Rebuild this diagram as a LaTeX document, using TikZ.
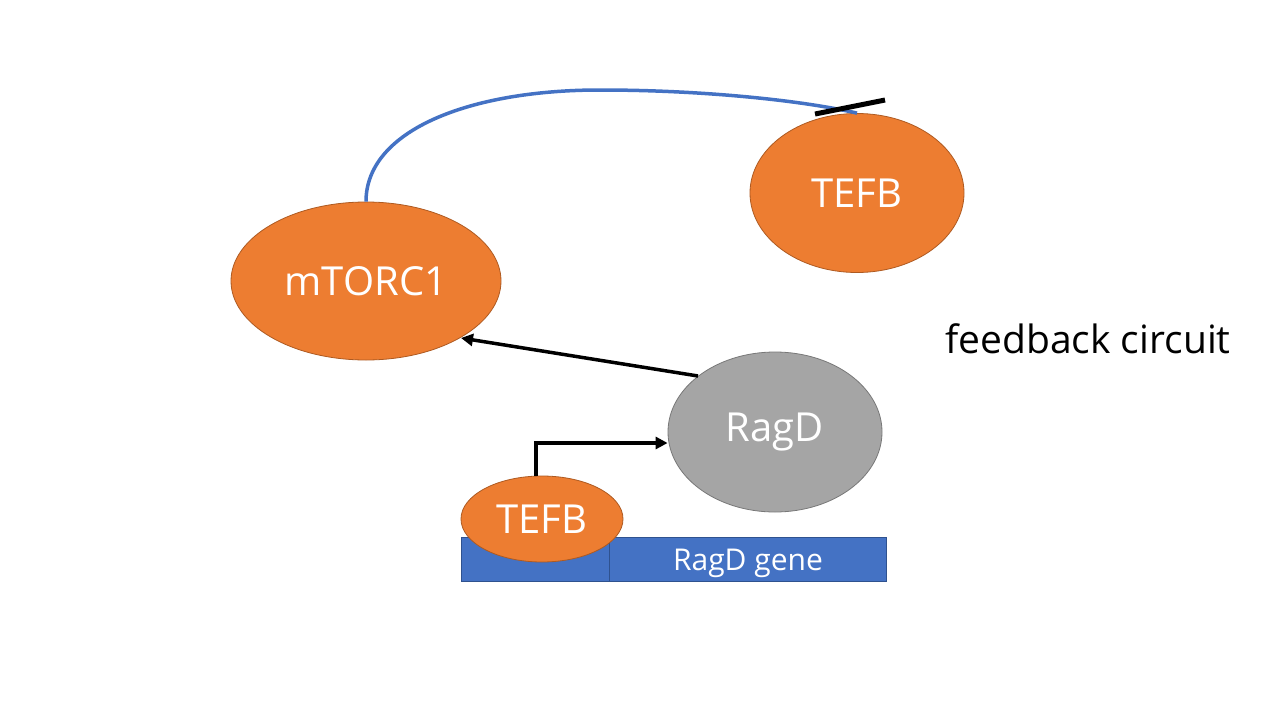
\documentclass[tikz,border=0pt]{standalone}
\usepackage{fontspec}
\setmainfont{Open Sans}
\usetikzlibrary{arrows.meta,shapes.geometric}
\definecolor{orng}{HTML}{ED7D31}
\definecolor{orngd}{HTML}{AE5A21}
\definecolor{gry}{HTML}{A5A5A5}
\definecolor{gryd}{HTML}{787878}
\definecolor{blu}{HTML}{4472C4}
\definecolor{blud}{HTML}{2F528F}
\tikzset{
  orangeell/.style={ellipse, fill=orng, draw=orngd, line width=0.8pt, inner sep=0pt, text=white, font=\fontsize{40}{44}\selectfont},
  greyell/.style={ellipse, fill=gry, draw=gryd, line width=0.8pt, inner sep=0pt, text=white, font=\fontsize{40}{44}\selectfont},
  generect/.style={rectangle, fill=blu, draw=blud, line width=0.8pt, inner sep=0pt, text=white, font=\fontsize{30}{34}\selectfont},
  blackarrow/.style={draw=black, line width=3.5pt, -{Triangle[length=12pt,width=12pt]}},
}
\begin{document}
\begin{tikzpicture}[x=1pt,y=-1pt]
\useasboundingbox[fill=white] (0,0) rectangle (1280,720);
% gene rectangles
\node[generect, minimum width=148pt, minimum height=44pt] (prom) at (535,559) {};
\node[generect, minimum width=277pt, minimum height=44pt] (gene) at (747.5,559) {};
\node[text=white, font=\fontsize{30}{34}\selectfont, inner sep=0pt] (genetxt) at (748,563) {RagD gene};
% ellipses
\node[orangeell, minimum width=270pt, minimum height=158pt] (mtorc) at (366,281) {mTORC1};
\node[orangeell, minimum width=214pt, minimum height=159pt] (tefbtop) at (857,193) {TEFB};
\node[greyell, minimum width=214pt, minimum height=160pt] (ragd) at (775,432) {RagD};
\node[orangeell, minimum width=162pt, minimum height=86pt] (tefb) at (542,519) {TEFB};
% blue inhibition curve
\coordinate (mid) at (600,90);
\draw[blu, line width=3.5pt] (mtorc.north) .. controls (366,130) and (470,90) .. (mid) .. controls (700,90) and (800,100) .. (tefbtop.north);
\coordinate (barA) at (815,114);
\coordinate (barB) at (885,100);
\draw[black, line width=5pt] (barA) -- (barB);
% RagD -> mTORC1
\coordinate (ragdout) at (698,376);
\coordinate (mtorcin) at (461,338);
\draw[blackarrow] (ragdout) -- (mtorcin);
% TEFB -> RagD elbow
\draw[blackarrow] (tefb.north -| 536,0) |- (ragd.west |- 0,443);
% label
\node[font=\fontsize{39}{43}\selectfont, text=black] (fb) at (1088,339) {feedback circuit};
\end{tikzpicture}
\end{document}
